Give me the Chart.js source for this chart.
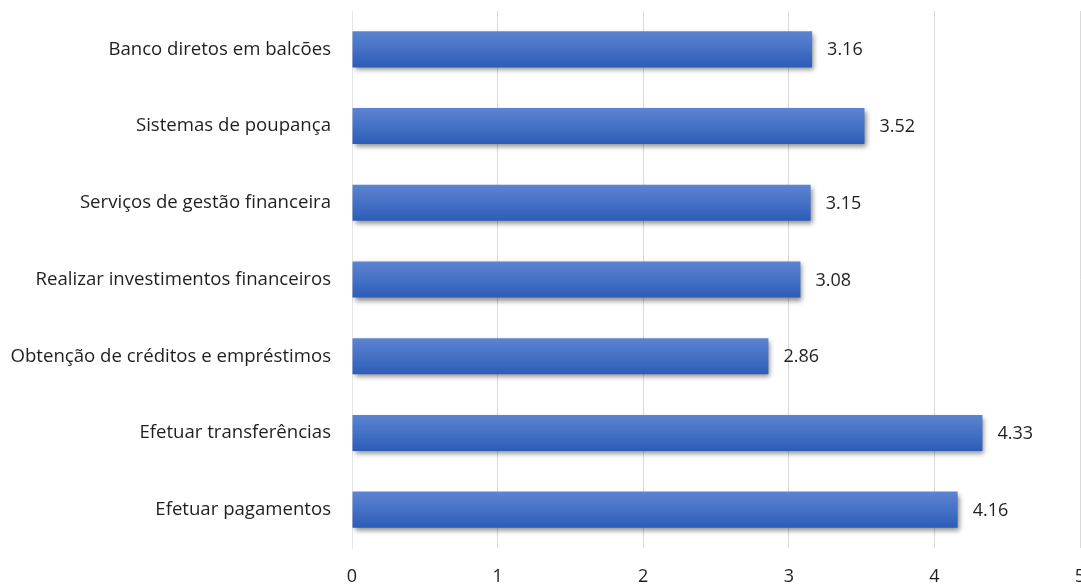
<!DOCTYPE html>
<html>
<head>
<meta charset="utf-8">
<script src="https://cdn.jsdelivr.net/npm/chart.js@4/dist/chart.umd.min.js"></script>
<style>
  html, body { margin: 0; padding: 0; background: #fff; overflow: hidden; }
  #wrap { width: 1110px; height: 587px; }
</style>
</head>
<body>
<div id="wrap"><canvas id="barChart" width="1110" height="587"></canvas></div>
<script>
const categories = [
  'Banco diretos em balcões',
  'Sistemas de poupança',
  'Serviços de gestão financeira',
  'Realizar investimentos financeiros',
  'Obtenção de créditos e empréstimos',
  'Efetuar transferências',
  'Efetuar pagamentos'
];
const scores = [3.16, 3.52, 3.15, 3.08, 2.86, 4.33, 4.16];
const xTicks = [0, 1, 2, 3, 4, 5];

const fontFamily = '"Open Sans", "Liberation Sans", sans-serif';
const textColor = '#1f1f1f';
const barPct = 0.94;
const catPct = 0.5;

// vertical gradient fill for each bar, lighter at the top
function barGradient(context) {
  const chart = context.chart;
  const yScale = chart.scales.y;
  if (!chart.chartArea || !yScale || context.dataIndex === undefined) return '#4472c4';
  const yc = yScale.getPixelForValue(context.dataIndex);
  const half = (yScale.height / categories.length) * barPct * catPct / 2;
  const g = chart.ctx.createLinearGradient(0, yc - half, 0, yc + half);
  g.addColorStop(0, '#5d84d1');
  g.addColorStop(0.5, '#4571c6');
  g.addColorStop(1, '#2d5cb6');
  return g;
}

// soft drop shadow under the bars
const barShadow = {
  id: 'barShadow',
  beforeDatasetDraw(chart) {
    const ctx = chart.ctx;
    ctx.save();
    ctx.shadowColor = 'rgba(0, 0, 0, 0.45)';
    ctx.shadowBlur = 5;
    ctx.shadowOffsetX = 2;
    ctx.shadowOffsetY = 3;
  },
  afterDatasetDraw(chart) {
    chart.ctx.restore();
  }
};

// value written just past the end of each bar
const valueLabels = {
  id: 'valueLabels',
  afterDatasetsDraw(chart) {
    const ctx = chart.ctx;
    const meta = chart.getDatasetMeta(0);
    ctx.save();
    ctx.font = '18px ' + fontFamily;
    ctx.fillStyle = textColor;
    ctx.textAlign = 'left';
    ctx.textBaseline = 'middle';
    meta.data.forEach((bar, i) => {
      ctx.fillText(scores[i].toFixed(2), bar.x + 15, bar.y + 1);
    });
    ctx.restore();
  }
};

const ctx = document.getElementById('barChart').getContext('2d');
new Chart(ctx, {
  type: 'bar',
  data: {
    labels: categories,
    datasets: [{
      data: scores,
      backgroundColor: barGradient,
      borderWidth: 0,
      barPercentage: barPct,
      categoryPercentage: catPct
    }]
  },
  options: {
    indexAxis: 'y',
    responsive: false,
    animation: false,
    layout: { padding: { top: 11, right: 30, bottom: 0, left: 0 } },
    plugins: {
      legend: { display: false },
      tooltip: { enabled: false }
    },
    scales: {
      x: {
        min: 0,
        max: 5,
        afterBuildTicks(axis) {
          axis.ticks = xTicks.map(v => ({ value: v }));
        },
        afterFit(axis) { axis.height = 39; },
        grid: { color: '#d9d9d9', lineWidth: 1, drawTicks: false },
        border: { display: false },
        ticks: {
          color: textColor,
          font: { family: fontFamily, size: 18 },
          padding: 18
        }
      },
      y: {
        grid: { display: false, drawTicks: false },
        border: { display: true, color: '#e6e6e6' },
        afterFit(axis) {
          axis.width = 352;
          axis.paddingTop = 0;
          axis.paddingBottom = 0;
        },
        ticks: {
          color: textColor,
          font: { family: fontFamily, size: 18.6 },
          padding: 21
        }
      }
    }
  },
  plugins: [barShadow, valueLabels]
});
</script>
</body>
</html>
